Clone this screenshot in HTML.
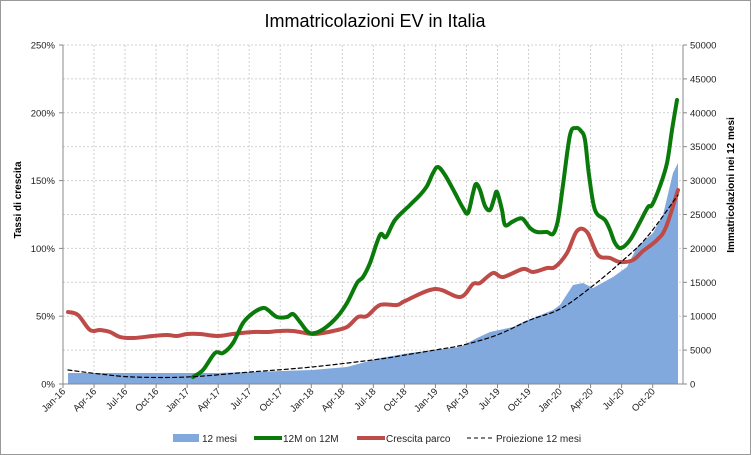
<!DOCTYPE html><html><head><meta charset="utf-8"><style>body{margin:0;background:#fff}svg{display:block;font-family:"Liberation Sans",sans-serif}</style></head><body>
<svg width="751" height="455" viewBox="0 0 751 455">
<rect x="0.5" y="0.5" width="750" height="454" fill="#fff" stroke="#999"/>
<text x="375" y="27" font-size="18" text-anchor="middle">Immatricolazioni EV in Italia</text>
<g stroke="#d0d0d0" stroke-dasharray="2,2" stroke-width="1" id="grid"></g>
<path fill="#82a9de" d="M68,373 L217,373 L312,370 L347,367 L380,358 L410,353 L460,347 L477,338 L490,332 L513,327 L523,322 L553,310 L560,305 L573,285 L583,283 L593,288 L613,277 L627,267 L637,247 L653,233 L663,215 L673,173 L678,163 L678,384 L68,384Z"/>
<g fill="none" stroke-linejoin="round" stroke-linecap="round">
<path id="red" stroke="#be4b48" stroke-width="4"/>
<path id="green" stroke="#0a7a0a" stroke-width="4"/>
<path id="dash" stroke="#000" stroke-width="1.2" stroke-dasharray="4,3"/>
</g>
<g stroke="#888"><line x1="63" y1="45" x2="63" y2="384"/><line x1="683" y1="45" x2="683" y2="384"/><line x1="63" y1="384" x2="683" y2="384"/></g>
<g id="ticks" font-size="9.5" fill="#222"></g>
<text transform="translate(21,200) rotate(-90)" font-size="10" font-weight="bold" text-anchor="middle">Tassi di crescita</text>
<text transform="translate(734,185) rotate(-90)" font-size="10" font-weight="bold" text-anchor="middle">Immatricolazioni nei 12 mesi</text>
<g font-size="10" fill="#222">
<rect x="173" y="434" width="26" height="8" fill="#82a9de"/><text x="202" y="442">12 mesi</text>
<line x1="254" y1="438" x2="282" y2="438" stroke="#0a7a0a" stroke-width="4"/><text x="283" y="442">12M on 12M</text>
<line x1="357" y1="438" x2="385" y2="438" stroke="#be4b48" stroke-width="4"/><text x="386" y="442">Crescita parco</text>
<line x1="467" y1="438" x2="492" y2="438" stroke="#000" stroke-dasharray="4,3"/><text x="496" y="442">Proiezione 12 mesi</text>
</g>
</svg>
<script>
function sm(p){let d="M"+p[0];for(let i=0;i<p.length-1;i++){const a=p[i-1]||p[i],b=p[i],c=p[i+1],e=p[i+2]||c;d+=` C${b[0]+(c[0]-a[0])/6},${b[1]+(c[1]-a[1])/6} ${c[0]-(e[0]-b[0])/6},${c[1]-(e[1]-b[1])/6} ${c[0]},${c[1]}`;}return d;}
const red=[[68,312],[78,315],[90,330],[100,330],[110,332],[120,337],[133,338],[153,336],[167,335],[177,336],[187,334],[200,334],[217,336],[233,334],[253,332],[267,332],[280,331],[293,331],[312,334],[323,333],[333,331],[347,327],[358,317],[367,316],[380,305],[397,305],[405,301],[435,289],[460,297],[473,284],[480,283],[493,273],[503,277],[523,269],[533,272],[547,268],[555,267],[567,253],[577,231],[587,232],[598,255],[610,258],[620,262],[633,260],[643,251],[657,240],[666,227],[678,190]];
const green=[[193,377],[203,370],[215,353],[223,353],[233,343],[243,323],[253,313],[263,308],[268,310],[277,317],[287,317],[293,314],[300,322],[308,332],[315,333],[325,328],[337,317],[347,303],[357,283],[363,277],[370,263],[380,235],[386,237],[395,220],[410,205],[420,195],[427,186],[433,173],[438,167],[445,175],[455,193],[463,208],[468,213],[473,193],[476,184],[480,190],[485,206],[490,210],[494,199],[497,192],[502,210],[505,225],[512,222],[518,219],[523,219],[530,228],[537,232],[547,232],[553,234],[558,220],[563,185],[570,135],[576,128],[581,131],[585,140],[589,175],[595,210],[605,220],[610,230],[615,243],[621,248],[630,240],[640,222],[648,207],[652,205],[660,186],[667,163],[672,130],[677,100]];
const dash=[[68,370],[100,374],[133,377],[187,377],[250,372],[312,367],[380,359],[405,355],[435,350],[463,345],[497,335],[530,320],[560,309],[590,288],[620,263],[647,237],[678,195]];
document.getElementById('red').setAttribute('d',sm(red));
document.getElementById('green').setAttribute('d',sm(green));
document.getElementById('dash').setAttribute('d',sm(dash));
const ns="http://www.w3.org/2000/svg";const g=document.getElementById('grid'),t=document.getElementById('ticks');
function el(p,tag,a,txt){const e=document.createElementNS(ns,tag);for(const k in a)e.setAttribute(k,a[k]);if(txt)e.textContent=txt;p.appendChild(e);return e;}
for(let i=0;i<=5;i++){const y=384-i*67.8;if(i>0)el(g,'line',{x1:63,x2:683,y1:y,y2:y});
el(t,'text',{x:55,y:y+3.5,'text-anchor':'end'},(i*50)+'%');el(t,'text',{x:690,y:y+3.5},String(i*10000));
el(t,'line',{x1:59,x2:63,y1:y,y2:y,stroke:'#888'});el(t,'line',{x1:683,x2:687,y1:y,y2:y,stroke:'#888'});
if(i<5){const y2=y-33.9;el(g,'line',{x1:63,x2:683,y1:y2,y2:y2});el(t,'text',{x:690,y:y2+3.5},String(i*10000+5000));el(t,'line',{x1:683,x2:687,y1:y2,y2:y2,stroke:'#888'});}}
const m=['Jan','Apr','Jul','Oct'];
for(let q=0;q<20;q++){const x=63+q*31.035;if(q>0)el(g,'line',{x1:x,x2:x,y1:45,y2:384});
el(t,'line',{x1:x,x2:x,y1:384,y2:388,stroke:'#888'});
el(t,'text',{transform:`translate(${x+3},392) rotate(-45)`,'text-anchor':'end'},m[q%4]+'-'+(16+Math.floor(q/4)));}
</script>
</body></html>
